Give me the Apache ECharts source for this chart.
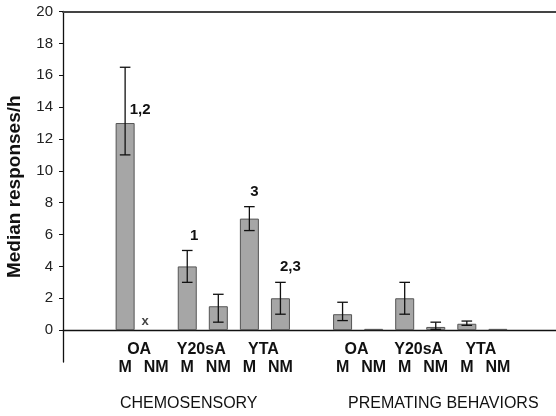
<!DOCTYPE html>
<html><head><meta charset="utf-8">
<script src="https://cdn.jsdelivr.net/npm/echarts@6/dist/echarts.min.js"></script>
<style>html,body{margin:0;padding:0;background:#fff}#c{width:556px;height:416px}</style>
</head><body><div id="c"></div>
<script>
// ---- data ----
const groupNames = ['OA', 'Y20sA', 'YTA'];
const subNames = ['M', 'NM'];
const sectionTitles = ['CHEMOSENSORY', 'PREMATING BEHAVIORS'];
const chemoMedian = [13, null, 4, 1.5, 7, 2];
const chemoLow = [11, null, 3, 0.5, 6.25, 1];
const chemoHigh = [16.5, null, 5, 2.25, 7.75, 3];
const chemoMarks = ['1,2', 'x', '1', '', '3', '2,3'];
const premMedian = [1, 0.08, 2, 0.2, 0.4, 0.08];
const premLow = [0.6, null, 1, 0.05, 0.3, null];
const premHigh = [1.75, null, 3, 0.5, 0.57, null];
const yTicks = [0, 2, 4, 6, 8, 10, 12, 14, 16, 18, 20];
const yName = 'Median responses/h';

// ---- styling (not data) ----
const markOffsets = [[15, -1], [-11, 3], [7, -18], null, [5, -14], [10, -19]];
const FONT = '"Liberation Sans", Arial, sans-serif';

// ---- build category slots ----
const slots = [];
const pushBlank = () => slots.push({ key: 'blank' + slots.length, blank: true });
function addSection(sec, med, lo, hi, marks, offs) {
  groupNames.forEach((g, gi) => subNames.forEach((s, si) => {
    const k = gi * 2 + si;
    slots.push({ key: sec + '-' + g + '-' + s, group: si === 0 ? g : '', sub: s,
      v: med[k], lo: lo[k], hi: hi[k], mark: marks ? marks[k] : '', off: offs ? offs[k] : null });
  }));
}
pushBlank(); pushBlank();
addSection('chemo', chemoMedian, chemoLow, chemoHigh, chemoMarks, markOffsets);
pushBlank();
addSection('prem', premMedian, premLow, premHigh, null, null);
pushBlank(); pushBlank();

const categories = slots.map(s => s.key);
const barData = slots.map(s => {
  if (s.blank || s.v == null) return null;
  const item = { value: s.v };
  if (s.mark && s.mark !== 'x') {
    item.label = { show: true, position: 'top', formatter: s.mark, offset: s.off || [0, 0],
      fontFamily: FONT, fontSize: 15, fontWeight: 'bold', color: '#111' };
  }
  return item;
});
const errData = [];
slots.forEach((s, i) => { if (!s.blank && s.lo != null && s.hi != null) errData.push([i, s.lo, s.hi]); });
const xMarkData = [];
slots.forEach((s, i) => { if (s.mark === 'x') xMarkData.push({ value: [i, 0], off: s.off }); });

const chart = echarts.init(document.getElementById('c'), null, { renderer: 'canvas' });
chart.setOption({
  animation: false,
  backgroundColor: '#fff',
  title: [
    { text: sectionTitles[0], left: 120, top: 396, padding: 0,
      textStyle: { fontFamily: FONT, fontSize: 16, fontWeight: 'normal', color: '#111' } },
    { text: sectionTitles[1], left: 348, top: 396, padding: 0,
      textStyle: { fontFamily: FONT, fontSize: 16, fontWeight: 'normal', color: '#111' } }
  ],
  grid: { left: 63, top: 11.5, width: 497, bottom: 54, containLabel: false, outerBoundsMode: 'none' },
  xAxis: [{
    type: 'category', data: categories, boundaryGap: false, position: 'bottom',
    axisLine: { show: true, onZero: true, lineStyle: { color: '#111', width: 1.3 } },
    axisTick: { show: false },
    axisLabel: {
      interval: 0, margin: -22, color: '#111', fontFamily: FONT,
      formatter: (val, idx) => {
        const s = slots[idx];
        if (!s || s.blank) return '';
        const first = s.group ? '{g|' + s.group + '}' : '{e| }';
        return first + '\n{m|' + s.sub + '}';
      },
      rich: {
        g: { fontFamily: FONT, fontSize: 16, fontWeight: 'bold', color: '#111', lineHeight: 18.5, padding: [0, 0, 0, 28] },
        e: { fontFamily: FONT, fontSize: 16, lineHeight: 18.5 },
        m: { fontFamily: FONT, fontSize: 16, fontWeight: 'bold', color: '#111', lineHeight: 18.5 }
      }
    },
    splitLine: { show: false }
  }, {
    type: 'category', data: categories, boundaryGap: false, position: 'top',
    axisLine: { show: true, onZero: false, lineStyle: { color: '#444', width: 1.8 } },
    axisTick: { show: false }, axisLabel: { show: false }, splitLine: { show: false }
  }],
  yAxis: {
    type: 'value', min: -2, max: 20, interval: 2,
    name: yName, nameLocation: 'middle', nameGap: 39,
    nameTextStyle: { fontFamily: FONT, fontSize: 19, fontWeight: 'bold', color: '#111' },
    axisLine: { show: true, onZero: false, lineStyle: { color: '#111', width: 1.3 } },
    axisTick: { show: true, inside: false, length: 4, customValues: yTicks, lineStyle: { color: '#111', width: 1 } },
    axisLabel: { margin: 10, customValues: yTicks, fontFamily: FONT, fontSize: 15, color: '#222' },
    splitLine: { show: false }
  },
  series: [{
    type: 'bar', data: barData, barWidth: 19, z: 2,
    itemStyle: { color: '#a6a6a6', borderColor: '#555', borderWidth: 1 }
  }, {
    type: 'custom', data: errData, z: 3, encode: { x: 0, y: [1, 2] },
    renderItem: (params, api) => {
      const x = api.value(0);
      const lo = api.coord([x, api.value(1)]);
      const hi = api.coord([x, api.value(2)]);
      const hw = 5.3;
      const st = { stroke: '#111', lineWidth: 1.3 };
      return { type: 'group', children: [
        { type: 'line', shape: { x1: lo[0], y1: lo[1], x2: hi[0], y2: hi[1] }, style: st },
        { type: 'line', shape: { x1: lo[0] - hw, y1: lo[1], x2: lo[0] + hw, y2: lo[1] }, style: st },
        { type: 'line', shape: { x1: hi[0] - hw, y1: hi[1], x2: hi[0] + hw, y2: hi[1] }, style: st }
      ] };
    }
  }, {
    type: 'scatter', data: xMarkData.map(d => ({ value: d.value, label: { offset: d.off } })),
    symbolSize: 0, z: 4,
    label: { show: true, position: 'top', formatter: 'x', fontFamily: FONT, fontSize: 13, fontWeight: 'bold', color: '#111' }
  }]
});
</script></body></html>
